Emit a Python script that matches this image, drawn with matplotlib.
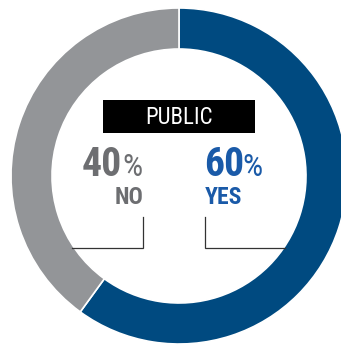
import matplotlib
matplotlib.use("Agg")
import matplotlib.pyplot as plt
from matplotlib.patches import Rectangle

# Survey result
title = "PUBLIC"
labels = ["YES", "NO"]
shares = [60, 40]

ring_colors = ["#004a80", "#939598"]
text_colors = ["#1a5aa8", "#6d6e71"]

plt.rcParams["font.family"] = ["Roboto Condensed", "DejaVu Sans"]

W, H = 341, 345
fig = plt.figure(figsize=(W / 100, H / 100), dpi=100)
ax = fig.add_axes([0, 0, 1, 1])

cx, cy, R, ring = 179, H - 176, 168, 41
ax.pie(shares, colors=ring_colors, startangle=90, counterclock=False,
       radius=R, center=(cx, cy),
       wedgeprops=dict(width=ring, edgecolor="white", linewidth=1.2))

ax.set_xlim(0, W)
ax.set_ylim(0, H)
ax.set_aspect("equal")
ax.axis("off")

# Title box
ax.add_patch(Rectangle((103, H - 133), 152, 33, facecolor="black", edgecolor="none"))
ax.text(cx, H - 124, title, color="white", fontsize=16.5, ha="center", va="baseline")

# Value labels: left side (NO) is right-aligned, right side (YES) left-aligned
yes_v, no_v = shares
ax.text(122, H - 176, f"{no_v}", color=text_colors[1], fontsize=28.5,
        fontweight="bold", ha="right", va="baseline")
ax.text(122, H - 176, "%", color=text_colors[1], fontsize=23,
        ha="left", va="baseline")
ax.text(143, H - 204, labels[1], color=text_colors[1], fontsize=17,
        fontweight="bold", ha="right", va="baseline")

ax.text(204, H - 176, f"{yes_v}", color=text_colors[0], fontsize=28.5,
        fontweight="bold", ha="left", va="baseline")
ax.text(242.5, H - 176, "%", color=text_colors[0], fontsize=23,
        ha="left", va="baseline")
ax.text(205, H - 204, labels[0], color=text_colors[0], fontsize=17,
        fontweight="bold", ha="left", va="baseline")

# Leader lines to the ring
lc = "#333333"
ax.plot([143.3, 143.3, 72], [H - 217, H - 248, H - 248], color=lc, lw=0.9,
        solid_joinstyle="miter")
ax.plot([205, 205, 285], [H - 217, H - 248, H - 248], color=lc, lw=0.9,
        solid_joinstyle="miter")

fig.savefig("out.png", dpi=100, facecolor="white")
